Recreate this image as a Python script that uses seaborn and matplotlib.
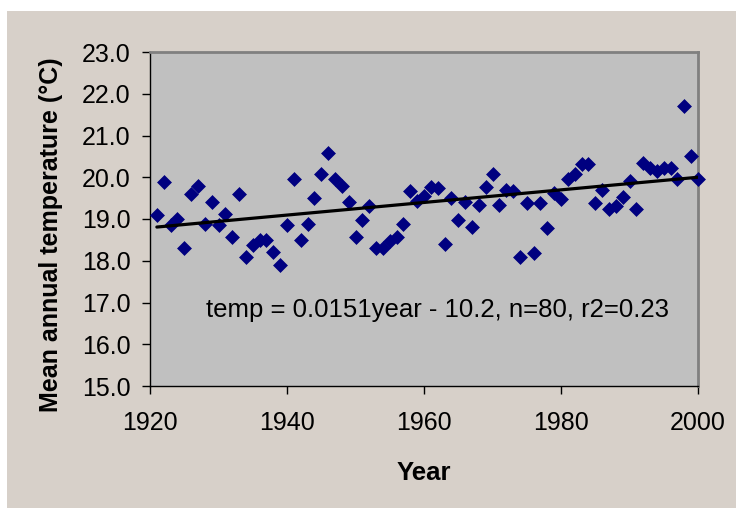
import numpy as np
import pandas as pd
import matplotlib
matplotlib.use('Agg')
import matplotlib.pyplot as plt
import seaborn as sns

# annual mean temperature, 1921-2000
years = list(range(1921, 2001))
temps = [
    19.10, 19.88, 18.86, 18.99, 18.30, 19.60, 19.79, 18.87, 19.40, 18.86,
    19.11, 18.58, 19.59, 18.10, 18.38, 18.50, 18.50, 18.20, 17.91, 18.86,
    19.97, 18.50, 18.87, 19.50, 20.07, 20.59, 19.97, 19.78, 19.40, 18.58,
    18.98, 19.31, 18.30, 18.30, 18.47, 18.58, 18.87, 19.68, 19.42, 19.56,
    19.77, 19.74, 18.39, 19.51, 18.98, 19.40, 18.82, 19.34, 19.77, 20.07,
    19.34, 19.69, 19.66, 18.10, 19.38, 18.19, 19.39, 18.78, 19.62, 19.48,
    19.95, 20.07, 20.32, 20.32, 19.39, 19.69, 19.25, 19.30, 19.52, 19.91,
    19.25, 20.33, 20.21, 20.16, 20.21, 20.21, 19.95, 21.71, 20.51, 19.96,
]

# regression from the chart annotation
slope = 0.0151
intercept = -10.2
eq_label = "temp = 0.0151year - 10.2, n=80, r2=0.23"

x_ticks = [1920, 1940, 1960, 1980, 2000]
y_ticks = [15.0, 16.0, 17.0, 18.0, 19.0, 20.0, 21.0, 22.0, 23.0]

df = pd.DataFrame({'year': years, 'temp': temps})

sns.set_style('ticks')
plt.rcParams['font.family'] = ['Liberation Sans', 'DejaVu Sans']
plt.rcParams['text.color'] = 'black'
plt.rcParams['axes.labelcolor'] = 'black'
plt.rcParams['xtick.color'] = 'black'
plt.rcParams['ytick.color'] = 'black'

fig = plt.figure(figsize=(7.36, 5.08), dpi=100)
fig.patch.set_facecolor('white')
# beige chart area (white strip on top and left)
fig.patches.append(plt.Rectangle((7 / 736, 0), 1, 1 - 11 / 508,
                                 transform=fig.transFigure,
                                 facecolor='#d7d0c9', edgecolor='none', zorder=-10))

ax = fig.add_axes([150 / 736, 1 - 386 / 508, 548 / 736, 334 / 508])
ax.set_zorder(1)
ax.set_facecolor('#c0c0c0')

sns.scatterplot(data=df, x='year', y='temp', marker='D', s=50,
                color='#000080', edgecolor='#000080', linewidth=0.5,
                ax=ax, zorder=3, clip_on=False)

line_x = np.array([years[0], years[-1]])
ax.plot(line_x, slope * line_x + intercept, color='black', lw=2.3, zorder=4)

ax.text(1962, 16.82, eq_label, fontsize=18.5, ha='center', va='center')

ax.set_xlim(1920, 2000)
ax.set_ylim(15, 23)
ax.set_xticks(x_ticks)
ax.set_yticks(y_ticks)
ax.set_yticklabels([f"{v:.1f}" for v in y_ticks])
ax.tick_params(axis='both', labelsize=18, length=6, width=1,
               color='black', labelcolor='black')
ax.tick_params(axis='y', pad=8)
ax.tick_params(axis='x', pad=12)

ax.set_xlabel('Year', fontsize=18.5, fontweight='bold', labelpad=19)
ax.set_ylabel('Mean annual temperature (°C)', fontsize=18, fontweight='bold')
ax.yaxis.set_label_coords(-0.159, 0.452)

for side in ['left', 'bottom']:
    ax.spines[side].set_color('black')
    ax.spines[side].set_linewidth(1)
for side in ['top', 'right']:
    ax.spines[side].set_visible(True)
    ax.spines[side].set_color('#808080')
    ax.spines[side].set_linewidth(2)

fig.savefig('out.png', dpi=100, facecolor=fig.get_facecolor())
